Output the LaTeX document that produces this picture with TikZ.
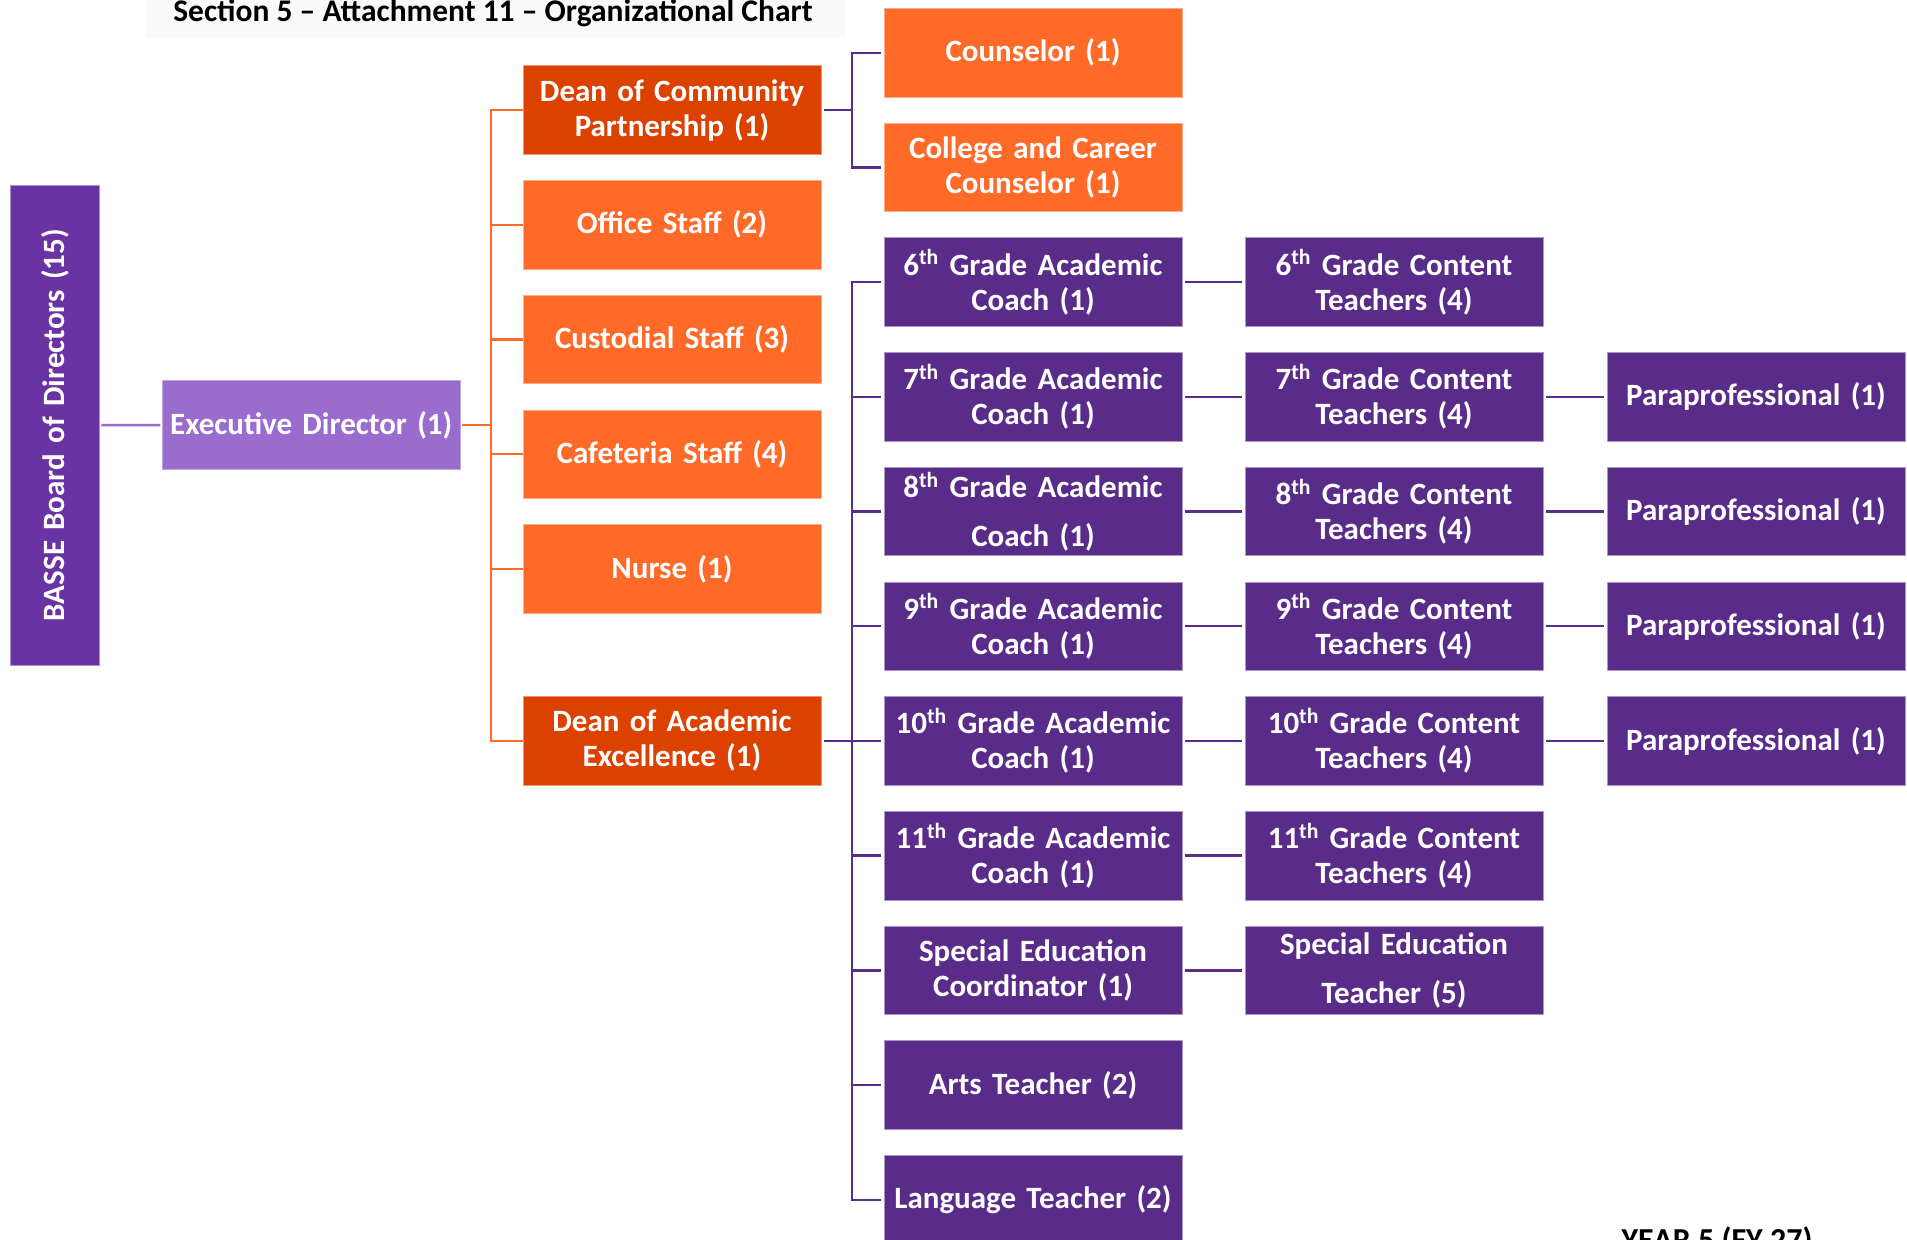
\documentclass[tikz,border=0pt]{standalone}
\usepackage{fontspec}
\setmainfont{Carlito}
\definecolor{boardp}{HTML}{6A33A3}
\definecolor{execp}{HTML}{9A6CCE}
\definecolor{deanor}{HTML}{DC4100}
\definecolor{boxor}{HTML}{FF6A28}
\definecolor{boxp}{HTML}{5A2C8A}
\definecolor{titlebg}{HTML}{FAFAFA}
\begin{document}
\begin{tikzpicture}[x=0.5pt,y=-0.5pt,
  box/.style={rectangle, inner sep=0pt, outer sep=0pt, minimum width=149pt, minimum height=44.3pt, text width=149pt, align=center, text=white, font=\fontsize{15.5}{17.5}\selectfont\bfseries, line width=0.4pt},
  obox/.style={box, fill=boxor, draw=boxor!55!white},
  dbox/.style={box, fill=deanor, draw=deanor!55!white},
  pbox/.style={box, fill=boxp, draw=boxp!50!white},
  widespace/.style={font=\fontsize{15.5}{24.5}\selectfont\bfseries},
  oline/.style={draw=boxor, line width=1.2pt},
  pline/.style={draw=boxp, line width=1.2pt},
  sline/.style={draw=boxp, line width=1.2pt, shorten <=1.5pt, shorten >=1.5pt},
]
\useasboundingbox (0,0) rectangle (1907,1239);
\fill[white] (0,0) rectangle (1907,1239);
% title
\fill[titlebg] (146,0) rectangle (845,38);
\node[anchor=base, inner sep=0pt, font=\fontsize{15.75}{18}\selectfont\bfseries] (title) at (493,21) {Section 5 – Attachment 11 – Organizational Chart};
\node[anchor=base, inner sep=0pt, font=\fontsize{16}{18}\selectfont\bfseries] (year) at (1717,1250) {YEAR 5 (FY 27)};
% board and executive
\node[box, rotate=90, minimum width=239.85pt, minimum height=44.3pt, text width=220pt, fill=boardp, draw=boardp!55!white] (board) at (55,425.2) {BASSE Board of Directors (15)};
\node[box, fill=execp, draw=execp!60!white] (exec) at (311.3,425) {Executive Director (1)};
% column 2
\node[dbox] (dc) at (672,110.1) {Dean of Community\\Partnership (1)};
\node[obox] (office) at (672,224.8) {Office Staff (2)};
\node[obox] (cust) at (672,339.5) {Custodial Staff (3)};
\node[obox] (cafe) at (672,454.2) {Cafeteria Staff (4)};
\node[obox] (nurse) at (672,568.9) {Nurse (1)};
\node[dbox] (da) at (672,740.95) {Dean of Academic\\Excellence (1)};
% column 3
\node[obox] (couns) at (1033,52.75) {Counselor (1)};
\node[obox] (ccc) at (1033,167.45) {College and Career\\Counselor (1)};
\node[pbox] (c6) at (1033,282.15) {6\textsuperscript{th} Grade Academic\\Coach (1)};
\node[pbox] (c7) at (1033,396.85) {7\textsuperscript{th} Grade Academic\\Coach (1)};
\node[pbox, widespace] (c8) at (1033,511.55) {8\textsuperscript{th} Grade Academic\\Coach (1)};
\node[pbox] (c9) at (1033,626.25) {9\textsuperscript{th} Grade Academic\\Coach (1)};
\node[pbox] (c10) at (1033,740.95) {10\textsuperscript{th} Grade Academic\\Coach (1)};
\node[pbox] (c11) at (1033,855.65) {11\textsuperscript{th} Grade Academic\\Coach (1)};
\node[pbox] (sec) at (1033,970.35) {Special Education\\Coordinator (1)};
\node[pbox] (arts) at (1033,1085.05) {Arts Teacher (2)};
\node[pbox] (lang) at (1033,1199.75) {Language Teacher (2)};
% column 4
\node[pbox] (t6) at (1394,282.15) {6\textsuperscript{th} Grade Content\\Teachers (4)};
\node[pbox] (t7) at (1394,396.85) {7\textsuperscript{th} Grade Content\\Teachers (4)};
\node[pbox] (t8) at (1394,511.55) {8\textsuperscript{th} Grade Content\\Teachers (4)};
\node[pbox] (t9) at (1394,626.25) {9\textsuperscript{th} Grade Content\\Teachers (4)};
\node[pbox] (t10) at (1394,740.95) {10\textsuperscript{th} Grade Content\\Teachers (4)};
\node[pbox] (t11) at (1394,855.65) {11\textsuperscript{th} Grade Content\\Teachers (4)};
\node[pbox, widespace] (set) at (1394,970.35) {Special Education\\Teacher (5)};
% column 5
\node[pbox] (p7) at (1756,396.85) {Paraprofessional (1)};
\node[pbox] (p8) at (1756,511.55) {Paraprofessional (1)};
\node[pbox] (p9) at (1756,626.25) {Paraprofessional (1)};
\node[pbox] (p10) at (1756,740.95) {Paraprofessional (1)};
% junctions
\coordinate (j1) at (491,425);
\coordinate (j2) at (852,110.1);
\coordinate (j3) at (852,740.95);
% connectors
\draw[draw=execp, line width=1.2pt, shorten <=1pt, shorten >=1pt] (board) -- (exec);
\draw[oline, shorten <=1pt] (exec) -- (j1);
\foreach \n in {dc,office,cust,cafe,nurse,da}
  \draw[oline] (j1) |- (\n);
\draw[pline, shorten <=1.5pt] (dc) -- (j2);
\foreach \n in {couns,ccc}
  \draw[pline, shorten >=1.5pt] (j2) |- (\n);
\draw[pline, shorten <=1.5pt] (da) -- (j3);
\foreach \n in {c6,c7,c8,c9,c10,c11,sec,arts,lang}
  \draw[pline, shorten >=1.5pt] (j3) |- (\n);
\draw[sline] (c6) -- (t6);
\draw[sline] (c7) -- (t7);
\draw[sline] (c8) -- (t8);
\draw[sline] (c9) -- (t9);
\draw[sline] (c10) -- (t10);
\draw[sline] (c11) -- (t11);
\draw[sline] (sec) -- (set);
\draw[sline] (t7) -- (p7);
\draw[sline] (t8) -- (p8);
\draw[sline] (t9) -- (p9);
\draw[sline] (t10) -- (p10);
\end{tikzpicture}
\end{document}
